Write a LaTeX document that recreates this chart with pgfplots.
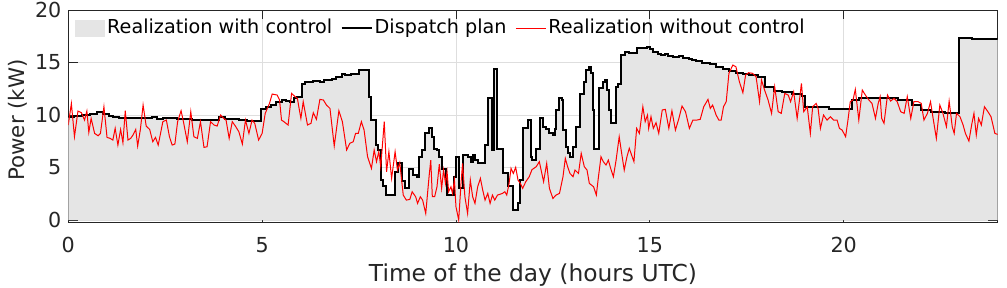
\documentclass[border=0pt]{standalone}
\usepackage{fontspec}
\setmainfont{DejaVu Sans}
\usepackage{pgfplots}
\usepackage{pgfplotstable}
\pgfplotsset{compat=1.18}
\definecolor{areagray}{gray}{0.9}
\definecolor{axcol}{gray}{0.15}
\definecolor{gridcol}{gray}{0.87}

\pgfplotstableread{
h v
0.00 9.80
0.15 9.90
0.35 10.00
0.55 10.10
0.75 10.25
0.90 10.10
1.05 9.95
1.15 9.80
1.30 9.75
1.80 9.70
2.15 9.85
2.30 9.60
2.45 9.70
2.80 9.60
3.20 9.55
3.90 9.85
4.05 9.60
4.40 9.55
4.60 9.45
4.98 10.60
5.10 10.80
5.22 10.95
5.35 11.20
5.52 11.45
5.62 11.30
5.72 11.20
5.82 11.60
5.90 11.75
6.02 13.00
6.10 13.10
6.30 13.20
6.49 13.10
6.60 13.30
6.79 13.45
6.90 13.65
7.05 13.95
7.15 13.85
7.30 13.95
7.50 14.30
7.75 11.75
7.82 9.50
7.93 7.15
7.99 6.70
8.06 3.80
8.12 3.20
8.20 2.40
8.44 4.60
8.50 5.40
8.62 3.70
8.68 3.10
8.79 4.90
8.88 4.30
9.00 4.10
9.05 6.00
9.12 6.70
9.20 8.25
9.30 8.75
9.39 7.90
9.44 6.80
9.50 6.70
9.57 6.00
9.65 4.90
9.74 4.10
9.78 2.40
9.95 4.10
9.99 6.00
10.08 3.10
10.17 6.20
10.30 6.00
10.38 5.55
10.45 6.20
10.50 5.70
10.58 5.40
10.75 7.15
10.83 11.60
10.93 6.70
10.99 14.35
11.06 6.80
11.20 4.45
11.33 3.20
11.46 0.95
11.59 1.60
11.66 3.80
11.72 8.75
11.85 9.50
11.93 6.00
11.95 5.70
12.07 6.80
12.16 9.70
12.24 8.90
12.33 8.70
12.39 8.25
12.50 8.10
12.55 8.70
12.58 10.50
12.67 11.60
12.74 11.40
12.76 8.60
12.84 7.00
12.90 6.35
12.94 6.00
13.01 7.00
13.10 8.90
13.20 12.05
13.29 13.15
13.36 14.30
13.42 14.60
13.49 14.00
13.53 10.50
13.56 6.80
13.70 12.55
13.79 13.15
13.84 13.30
13.89 12.40
13.94 10.50
14.00 9.20
14.13 12.70
14.19 13.00
14.25 15.70
14.36 16.05
14.45 15.90
14.66 16.35
14.92 16.45
15.00 16.30
15.08 16.05
15.20 15.80
15.30 15.70
15.40 15.85
15.48 15.60
15.60 15.55
15.75 15.60
15.85 15.45
16.00 15.30
16.10 15.20
16.19 15.10
16.35 15.00
16.54 14.85
16.70 14.60
16.88 14.35
17.05 14.20
17.22 14.05
17.40 13.95
17.57 13.85
17.80 13.60
17.98 12.70
18.20 12.30
18.41 12.15
18.67 12.00
18.93 11.80
19.00 10.75
19.44 10.80
19.62 10.55
20.22 11.45
20.39 11.65
21.40 11.45
21.75 10.95
22.00 10.50
22.26 10.25
22.61 10.15
22.98 17.30
23.30 17.25
23.70 17.20
23.97 17.20
}\plan

\pgfplotstableread{
h v
0.00 9.05
0.08 11.10
0.16 7.94
0.25 10.38
0.34 10.22
0.42 9.52
0.48 10.38
0.53 8.35
0.59 9.68
0.68 8.25
0.77 8.03
0.83 8.25
0.92 10.79
1.00 7.87
1.08 7.78
1.15 7.62
1.21 8.73
1.28 7.14
1.35 8.63
1.41 7.37
1.47 10.41
1.54 7.62
1.61 7.78
1.67 8.10
1.74 8.63
1.79 7.05
1.86 8.63
1.93 10.95
2.01 8.95
2.10 8.63
2.18 7.46
2.25 7.87
2.32 7.14
2.44 9.37
2.53 9.52
2.61 7.94
2.68 7.14
2.75 7.24
2.82 9.37
2.91 10.41
2.97 9.37
3.07 7.46
3.16 10.32
3.24 7.94
3.33 7.78
3.41 9.37
3.50 6.92
3.58 6.98
3.67 9.37
3.76 9.05
3.84 8.95
3.93 10.00
4.01 9.68
4.07 9.52
4.15 7.78
4.23 9.37
4.31 8.95
4.40 8.41
4.49 7.24
4.57 9.52
4.66 8.25
4.74 9.52
4.81 9.21
4.91 7.62
5.00 8.25
5.08 10.16
5.19 11.11
5.26 12.00
5.39 11.90
5.45 11.43
5.50 9.52
5.56 9.37
5.67 9.05
5.76 12.06
5.85 11.75
5.91 11.59
5.96 10.50
6.00 9.68
6.06 11.27
6.17 9.05
6.26 9.21
6.32 10.22
6.40 9.59
6.49 11.49
6.58 11.43
6.66 10.95
6.75 10.63
6.86 7.05
6.98 10.41
7.07 9.37
7.18 6.67
7.26 7.30
7.35 7.46
7.41 8.25
7.48 8.25
7.56 9.37
7.63 8.57
7.72 6.03
7.82 4.92
7.89 6.67
7.95 5.56
8.01 6.51
8.06 5.08
8.15 9.37
8.21 4.60
8.27 6.51
8.34 3.97
8.43 6.51
8.49 4.76
8.55 5.46
8.64 2.38
8.72 1.90
8.81 1.97
8.87 2.70
8.96 2.22
9.01 1.59
9.08 2.22
9.14 1.90
9.22 0.63
9.31 4.29
9.35 5.71
9.39 2.22
9.45 2.22
9.51 3.17
9.57 5.33
9.63 3.02
9.68 4.76
9.73 3.49
9.77 4.60
9.81 2.70
9.87 3.17
9.91 2.54
9.96 3.81
10.00 1.27
10.07 0.00
10.13 3.49
10.17 5.40
10.23 2.22
10.30 0.63
10.37 3.81
10.43 2.22
10.49 1.59
10.56 3.17
10.63 3.97
10.69 2.85
10.75 1.90
10.82 2.54
10.88 1.59
10.94 2.38
11.00 1.90
11.07 2.38
11.14 2.46
11.20 2.54
11.26 2.70
11.31 2.38
11.37 3.49
11.42 4.92
11.48 4.44
11.54 5.02
11.60 3.81
11.66 3.49
11.72 3.02
11.80 3.65
11.89 4.13
11.96 4.80
12.07 5.08
12.15 5.56
12.26 3.65
12.34 5.40
12.41 3.02
12.50 2.06
12.58 2.38
12.67 2.54
12.76 4.13
12.82 5.87
12.88 5.08
12.94 4.44
13.02 4.13
13.07 4.76
13.16 4.44
13.23 6.35
13.31 5.08
13.38 4.76
13.44 3.49
13.55 3.17
13.62 2.38
13.67 3.97
13.74 6.03
13.80 5.56
13.87 5.24
13.93 5.71
13.99 4.92
14.06 4.13
14.13 5.71
14.21 7.94
14.28 6.19
14.34 4.76
14.41 6.03
14.47 6.83
14.53 6.19
14.59 5.56
14.66 8.73
14.73 8.25
14.82 10.79
14.88 9.37
14.94 10.00
14.97 8.73
15.03 9.84
15.09 8.73
15.16 9.27
15.23 8.25
15.32 10.48
15.40 10.54
15.49 8.73
15.57 10.41
15.66 8.57
15.75 9.68
15.83 10.86
15.92 10.32
16.02 8.73
16.11 9.52
16.21 9.52
16.30 9.59
16.39 10.79
16.50 11.49
16.56 10.63
16.62 10.95
16.71 10.00
16.78 9.52
16.84 9.52
16.90 10.79
16.97 11.27
17.04 13.97
17.14 14.76
17.22 14.60
17.31 13.17
17.40 12.13
17.47 13.81
17.55 14.03
17.65 13.97
17.74 13.65
17.83 11.27
17.88 13.33
17.96 12.38
18.05 11.43
18.14 10.16
18.22 12.70
18.31 10.32
18.39 10.16
18.48 12.06
18.57 11.90
18.63 11.27
18.71 12.22
18.80 9.68
18.86 11.43
18.91 13.02
18.97 10.32
19.06 10.79
19.14 8.25
19.20 10.79
19.29 11.11
19.34 10.63
19.40 8.73
19.48 10.00
19.57 9.52
19.66 9.84
19.74 9.52
19.83 9.52
19.89 8.73
19.96 8.57
20.05 7.94
20.11 9.52
20.17 11.27
20.24 11.43
20.30 12.44
20.39 9.52
20.48 12.38
20.56 11.90
20.65 11.43
20.73 11.11
20.82 9.68
20.89 11.11
20.94 11.75
20.98 9.68
21.04 9.21
21.13 11.90
21.21 11.33
21.30 11.59
21.38 11.27
21.47 10.32
21.56 10.16
21.64 11.75
21.73 9.68
21.81 11.27
21.92 11.27
22.00 11.11
22.07 9.52
22.16 10.16
22.24 11.27
22.30 9.84
22.39 7.78
22.48 10.95
22.56 10.16
22.65 8.89
22.72 11.33
22.80 8.89
22.85 8.25
22.91 10.16
23.00 9.84
23.08 9.05
23.14 8.25
23.23 7.52
23.30 9.05
23.36 10.16
23.42 8.10
23.48 9.68
23.55 9.05
23.63 10.79
23.72 10.32
23.80 9.84
23.90 8.25
23.97 8.16
}\nocontrol

\begin{document}
\begin{tikzpicture}
\path[use as bounding box] (0,0) rectangle (755.25pt,216pt);
\begin{axis}[
  at={(51.2pt,48.98pt)}, anchor=south west,
  scale only axis, width=697pt, height=159.5pt,
  xmin=0, xmax=23.97, ymin=-0.25, ymax=20,
  xtick={0,5,10,15,20}, ytick={0,5,10,15,20},
  tick pos=both, tick align=inside, major tick length=7pt,
  grid=major, major grid style={gridcol, line width=0.5pt},
  axis line style={axcol, line width=0.6pt},
  every tick/.style={axcol, line width=0.6pt},
  /pgf/number format/assume math mode=true,
  tick label style={font=\fontsize{15.5}{18}\selectfont, text=axcol},
  xticklabel style={anchor=base, yshift=-22pt},
  yticklabel style={anchor=east, inner sep=0pt, xshift=-5pt},
  xlabel={Time of the day (hours UTC)},
  ylabel={Power (kW)},
  xlabel style={font=\fontsize{17.5}{20}\selectfont, text=axcol, at={(axis description cs:0.5,-0.2774)}, anchor=base},
  ylabel style={font=\fontsize{16}{19}\selectfont, text=axcol, at={(axis description cs:-0.0466,0.483)}, anchor=base},
  legend style={draw=none, fill=none, legend columns=3, inner sep=0pt,
    at={(axis description cs:0,1)}, anchor=north west, xshift=5pt, yshift=-7pt,
    font=\fontsize{14.4}{17}\selectfont,
    nodes={inner sep=1.5pt, text height=0.76em, text depth=0.04em},
    /tikz/every even column/.append style={column sep=5pt}},
  legend cell align=left,
]
\addplot[const plot, fill=areagray, draw=none,
  legend image code/.code={\fill[areagray] (0pt,-6.6pt) rectangle (22.5pt,6.6pt);}]
  table[x=h, y=v] {\plan} \closedcycle;
\addlegendentry{Realization with control}
\addplot[const plot, black, line width=1.5pt,
  legend image code/.code={\draw[black, line width=1.5pt] (0pt,0pt) -- (22.5pt,0pt);}]
  table[x=h, y=v] {\plan};
\addlegendentry{Dispatch plan}
\addplot[red, line width=0.75pt,
  legend image code/.code={\draw[red, line width=0.75pt] (0pt,0pt) -- (22.5pt,0pt);}]
  table[x=h, y=v] {\nocontrol};
\addlegendentry{Realization without control}
\end{axis}
\end{tikzpicture}
\end{document}
